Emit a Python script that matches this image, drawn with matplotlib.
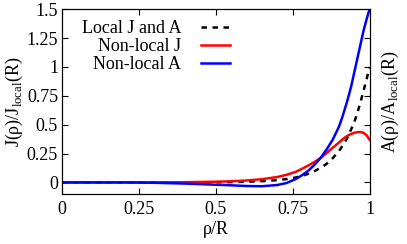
import matplotlib.pyplot as plt

plt.rcParams['font.family'] = ['Liberation Serif', 'DejaVu Serif']
plt.rcParams['mathtext.fontset'] = 'custom'
plt.rcParams['mathtext.rm'] = 'Liberation Serif'
plt.rcParams['font.size'] = 13

# values
rho = [0, 0.1, 0.2, 0.3, 0.4, 0.5, 0.55, 0.6, 0.65, 0.7, 0.73, 0.76, 0.78, 0.8, 0.82, 0.84,
       0.86, 0.88, 0.9, 0.91, 0.92, 0.93, 0.94, 0.95, 0.96, 0.97, 0.98, 0.99, 1.0]
local_JA = [0, 0, 0, 0, 0, 0.002, 0.003, 0.006, 0.011, 0.02, 0.029, 0.043, 0.057, 0.074, 0.097, 0.125,
            0.16, 0.21, 0.27, 0.31, 0.35, 0.40, 0.46, 0.52, 0.60, 0.69, 0.79, 0.89, 1.0]
nonlocal_J = [0, 0, 0, 0, 0.002, 0.006, 0.01, 0.017, 0.028, 0.047, 0.066, 0.092, 0.118, 0.146, 0.176, 0.21,
              0.255, 0.30, 0.345, 0.368, 0.39, 0.407, 0.42, 0.43, 0.435, 0.437, 0.43, 0.41, 0.37]
nonlocal_A = [0, 0, 0, -0.003, -0.01, -0.02, -0.025, -0.031, -0.033, -0.022, -0.005, 0.03, 0.062, 0.1, 0.15, 0.21,
              0.285, 0.37, 0.48, 0.555, 0.64, 0.73, 0.83, 0.95, 1.07, 1.19, 1.31, 1.41, 1.5]

xticks = [0, 0.25, 0.5, 0.75, 1]
xtick_labels = ['0', '0.25', '0.5', '0.75', '1']
yticks = [0, 0.25, 0.5, 0.75, 1, 1.25, 1.5]
ytick_labels = ['0', '0.25', '0.5', '0.75', '1', '1.25', '1.5']

fig = plt.figure(figsize=(4.07, 2.44), dpi=100)
ax = fig.add_axes([0.153, 0.205, 0.755, 0.757])

ax.plot(rho, local_JA, color='black', linestyle=(0, (2.2, 2.2)), linewidth=1.8, label='Local J and A')
ax.plot(rho, nonlocal_J, color='#ff0000', linewidth=1.8, label='Non-local J')
ax.plot(rho, nonlocal_A, color='#0000ff', linewidth=1.8, label='Non-local A')

ax.set_xlim(0, 1)
ax.set_ylim(-0.1, 1.5)
ax.set_xticks(xticks)
ax.set_xticklabels(xtick_labels)
ax.set_yticks(yticks)
ax.set_yticklabels(ytick_labels)
ax.tick_params(direction='in', length=4, top=True, right=True, width=0.8, pad=3)
ax.tick_params(axis='x', pad=5)

ax.set_xlabel(r'ρ/R', labelpad=2)
ax.set_ylabel(r'J(ρ)/J$_{\mathrm{local}}$(R)', labelpad=1)

ax2 = ax.twinx()
ax2.set_ylim(-0.1, 1.5)
ax2.set_yticks(yticks)
ax2.set_yticklabels([])
ax2.tick_params(direction='in', length=4, width=0.8)
ax2.set_ylabel(r'A(ρ)/A$_{\mathrm{local}}$(R)', labelpad=4)

ax.legend(loc='upper right', bbox_to_anchor=(0.57, 0.98), frameon=False,
          markerfirst=False, handlelength=1.6, handletextpad=1.1,
          labelspacing=0.05, borderpad=0.2, borderaxespad=0.2)

fig.savefig('out.png', dpi=100)
